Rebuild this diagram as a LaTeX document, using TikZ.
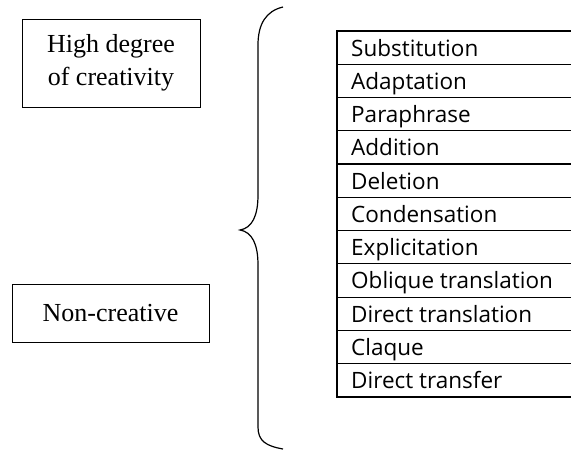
\documentclass[tikz,border=0pt]{standalone}
\usepackage{fontspec}
\setmainfont{Liberation Serif}
\setsansfont{Open Sans}
\begin{document}
\begin{tikzpicture}[x=1pt,y=-1pt,
  lbox/.style={draw,line width=1pt,inner sep=0pt,font=\fontsize{26}{33}\selectfont,align=center},
  cell/.style={anchor=base west,font=\sffamily\fontsize{22.5}{26}\selectfont,inner sep=0pt},
  rule/.style={line width=1.2pt}]
\useasboundingbox (0,0) rectangle (571,451);
\node[lbox,minimum width=178pt,minimum height=88pt] (high) at (111,63) {High degree\\of creativity};
\node[lbox,minimum width=197pt,minimum height=58pt] (non) at (110.5,313) {Non-creative};
\draw[line width=1.2pt] (283,7) .. controls (266,11) and (258,24) .. (258,45) -- (258,195)
  .. controls (258,216) and (252,228) .. (240,230)
  .. controls (252,232) and (258,244) .. (258,265) -- (258,427)
  .. controls (258,441) and (266,446) .. (283,449);
\foreach \t [count=\i] in {Substitution,Adaptation,Paraphrase,Addition,Deletion,Condensation,Explicitation,Oblique translation,Direct translation,Claque,Direct transfer}{
  \node[cell] (r\i) at (351,{31+33.27*(\i-1)+25}) {\t};
  \draw[rule] (337,{31+33.27*\i}) -- (571,{31+33.27*\i});
}
\draw[rule] (337,31) -- (571,31);
\draw[rule] (337,30.4) -- (337,397.6);
\end{tikzpicture}
\end{document}
